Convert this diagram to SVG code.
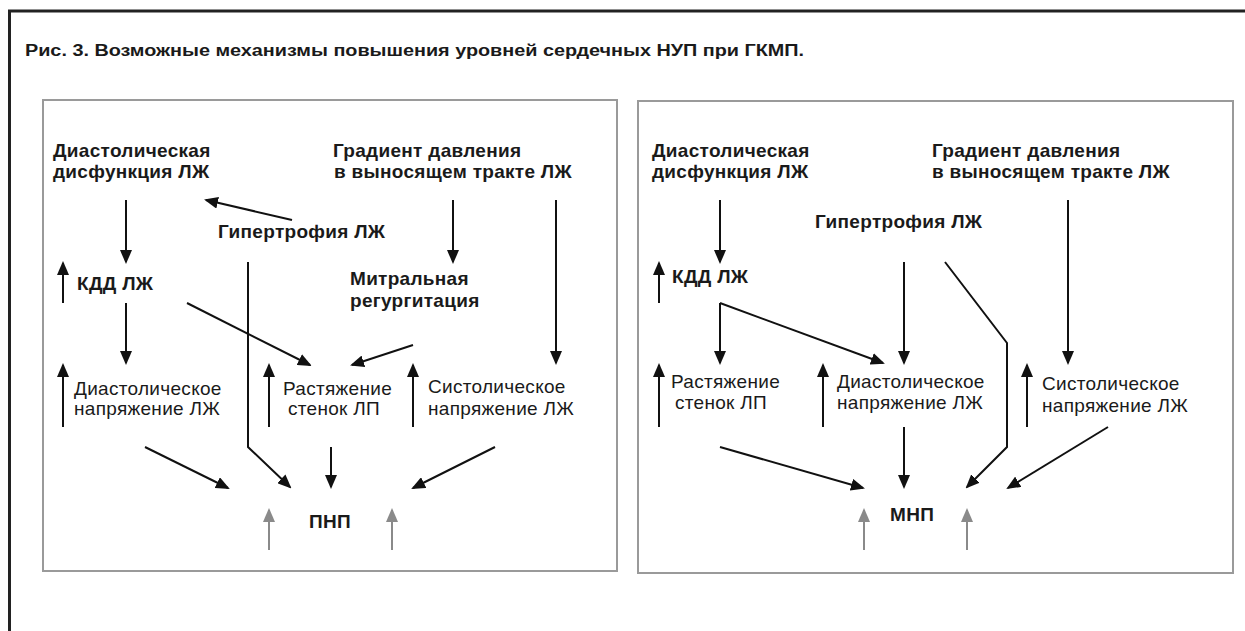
<svg xmlns="http://www.w3.org/2000/svg" width="1245" height="631" viewBox="0 0 1245 631">
<defs>
<marker id="ah" markerUnits="userSpaceOnUse" markerWidth="14" markerHeight="12" refX="12" refY="6" orient="auto" viewBox="0 0 14 12"><path d="M0,0 L14,6 L0,12 z" fill="#111"/></marker>
<marker id="ahg" markerUnits="userSpaceOnUse" markerWidth="14" markerHeight="12" refX="12" refY="6" orient="auto" viewBox="0 0 14 12"><path d="M0,0 L14,6 L0,12 z" fill="#8a8a8a"/></marker>
</defs>
<style>
.b{font-family:"Liberation Sans",Arial,sans-serif;font-weight:bold;font-size:19px;letter-spacing:0.3px;fill:#1a1a1a}
.r{font-family:"Liberation Sans",Arial,sans-serif;font-size:19px;letter-spacing:0.3px;fill:#1a1a1a}
.t{font-family:"Liberation Sans",Arial,sans-serif;font-weight:bold;font-size:16px;fill:#1a1a1a}
.panel{fill:none;stroke:#9a9a9a;stroke-width:2}
.c{fill:none;stroke:#111;stroke-width:2;marker-end:url(#ah)}
.g{fill:none;stroke:#8a8a8a;stroke-width:2;marker-end:url(#ahg)}
</style>
<rect width="1245" height="631" fill="#fff"/>
<path d="M9.5,631 V11 H1245" fill="none" stroke="#222" stroke-width="3"/>
<text class="t" x="25" y="56" textLength="779" lengthAdjust="spacingAndGlyphs">Рис. 3. Возможные механизмы повышения уровней сердечных НУП при ГКМП.</text>
<rect class="panel" x="43" y="100" width="574" height="471"/>
<rect class="panel" x="638" y="101" width="595" height="472"/>

<g id="L-diast-dysf"><text class="b" x="53" y="157">Диастолическая</text><text class="b" x="53" y="178">дисфункция ЛЖ</text></g>
<g id="L-gradient"><text class="b" x="333" y="157">Градиент давления</text><text class="b" x="334" y="178">в выносящем тракте ЛЖ</text></g>
<g id="L-hypertrophy"><text class="b" x="218" y="238">Гипертрофия ЛЖ</text></g>
<g id="L-mitral"><text class="b" x="350" y="285">Митральная</text><text class="b" x="350" y="307">регургитация</text></g>
<g id="L-kdd"><text class="b" x="77" y="290">КДД ЛЖ</text></g>
<g id="L-diast-tension"><text class="r" x="74" y="395">Диастолическое</text><text class="r" x="74" y="415">напряжение ЛЖ</text></g>
<g id="L-stretch"><text class="r" x="283" y="395">Растяжение</text><text class="r" x="288" y="415">стенок ЛП</text></g>
<g id="L-syst-tension"><text class="r" x="428" y="393">Систолическое</text><text class="r" x="428" y="415">напряжение ЛЖ</text></g>
<g id="L-pnp"><text class="b" x="309" y="528">ПНП</text></g>

<g id="R-diast-dysf"><text class="b" x="652" y="157">Диастолическая</text><text class="b" x="652" y="178">дисфункция ЛЖ</text></g>
<g id="R-gradient"><text class="b" x="932" y="157">Градиент давления</text><text class="b" x="932" y="178">в выносящем тракте ЛЖ</text></g>
<g id="R-hypertrophy"><text class="b" x="815" y="228">Гипертрофия ЛЖ</text></g>
<g id="R-kdd"><text class="b" x="672" y="283">КДД ЛЖ</text></g>
<g id="R-stretch"><text class="r" x="671" y="388">Растяжение</text><text class="r" x="675" y="409">стенок ЛП</text></g>
<g id="R-diast-tension"><text class="r" x="837" y="388">Диастолическое</text><text class="r" x="837" y="409">напряжение ЛЖ</text></g>
<g id="R-syst-tension"><text class="r" x="1042" y="390">Систолическое</text><text class="r" x="1042" y="412">напряжение ЛЖ</text></g>
<g id="R-mnp"><text class="b" x="890" y="521">МНП</text></g>

<g id="connectors">
<line class="c" x1="126" y1="200" x2="126" y2="262"/>
<line class="c" x1="292" y1="220" x2="206" y2="200"/>
<line class="c" x1="453" y1="200" x2="453" y2="262"/>
<line class="c" x1="556" y1="200" x2="556" y2="363"/>
<polyline class="c" points="248,262 248,447 290,487"/>
<line class="c" x1="63" y1="303" x2="63" y2="263"/>
<line class="c" x1="126" y1="303" x2="126" y2="363"/>
<line class="c" x1="187" y1="303" x2="310" y2="365"/>
<line class="c" x1="413" y1="345" x2="352" y2="365"/>
<line class="c" x1="63" y1="427" x2="63" y2="365"/>
<line class="c" x1="269" y1="427" x2="269" y2="365"/>
<line class="c" x1="413" y1="427" x2="413" y2="365"/>
<line class="c" x1="145" y1="447" x2="228" y2="488"/>
<line class="c" x1="331" y1="447" x2="331" y2="487"/>
<line class="c" x1="495" y1="447" x2="413" y2="488"/>
<line class="g" x1="269" y1="550" x2="269" y2="510"/>
<line class="g" x1="392" y1="550" x2="392" y2="510"/>
<line class="c" x1="720" y1="200" x2="720" y2="262"/>
<line class="c" x1="1068" y1="200" x2="1068" y2="363"/>
<line class="c" x1="904" y1="262" x2="904" y2="363"/>
<polyline class="c" points="945,262 1007,343 1007,447 967,487"/>
<line class="c" x1="659" y1="303" x2="659" y2="263"/>
<line class="c" x1="720" y1="303" x2="720" y2="363"/>
<line class="c" x1="720" y1="303" x2="883" y2="363"/>
<line class="c" x1="659" y1="427" x2="659" y2="365"/>
<line class="c" x1="823" y1="427" x2="823" y2="365"/>
<line class="c" x1="1027" y1="427" x2="1027" y2="365"/>
<line class="c" x1="720" y1="447" x2="863" y2="488"/>
<line class="c" x1="904" y1="427" x2="904" y2="487"/>
<line class="c" x1="1108" y1="427" x2="1008" y2="488"/>
<line class="g" x1="864" y1="550" x2="864" y2="510"/>
<line class="g" x1="967" y1="550" x2="967" y2="510"/>
</g>
</svg>
